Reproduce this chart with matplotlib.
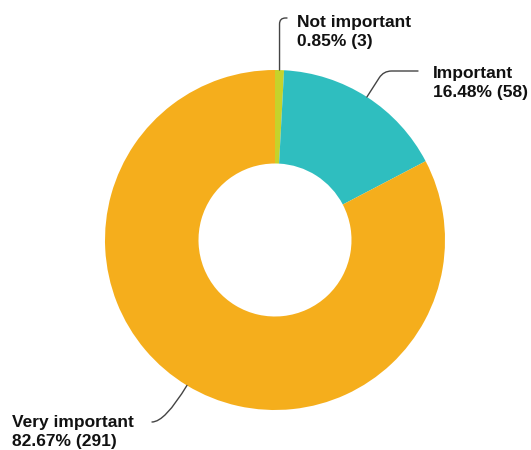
import matplotlib

matplotlib.use("Agg")
import matplotlib.pyplot as plt
import numpy as np

LABELS = ["Not important", "Important", "Very important"]
PERCENTS = [0.85, 16.48, 82.67]
COUNTS = [3, 58, 291]
COLORS = ["#C5D32B", "#2FBEBF", "#F5AE1C"]

W, H = 531, 450
CX, CY, R = 275, 240, 170  # pixel centre / radius of the donut


def px(x, y):
    return (x - CX) / R, (CY - y) / R


fig = plt.figure(figsize=(W / 100, H / 100), dpi=100)
ax = fig.add_axes([0, 0, 1, 1])
wedges, _ = ax.pie(
    PERCENTS,
    colors=COLORS,
    startangle=90,
    counterclock=False,
    radius=1.0,
    wedgeprops=dict(width=0.55, linewidth=0),
)
ax.set_xlim(px(0, 0)[0], px(W, 0)[0])
ax.set_ylim(px(0, H)[1], px(0, 0)[1])
ax.set_aspect("equal", adjustable="box")
ax.axis("off")

# label position (pixels), end of leader (pixels), connection style
layout = [
    dict(text=(297, 32), end=(287, 18), conn="angle,angleA=0,angleB=90,rad=6"),
    dict(text=(433, 83), end=(418, 71), conn="angle,angleA=0,angleB={a},rad=8"),
    dict(text=(12, 432), end=(152, 422), conn="angle3,angleA=0,angleB={a}"),
]

for w, lab, pct, cnt, lay in zip(wedges, LABELS, PERCENTS, COUNTS, layout):
    mid = np.deg2rad((w.theta1 + w.theta2) / 2)
    anchor = (np.cos(mid), np.sin(mid))
    ax.annotate(
        "",
        xy=anchor,
        xytext=px(*lay["end"]),
        arrowprops=dict(
            arrowstyle="-",
            color="#444444",
            lw=1.0,
            shrinkA=0,
            shrinkB=0,
            connectionstyle=lay["conn"].format(a=np.rad2deg(mid)),
        ),
    )
    ax.text(
        *px(*lay["text"]),
        f"{lab}\n{pct:.2f}% ({cnt})",
        ha="left",
        va="center",
        fontsize=12.5,
        fontweight="bold",
        family="Liberation Sans",
        color="#111111",
        linespacing=1.3,
    )

fig.savefig("out.png", dpi=100)
